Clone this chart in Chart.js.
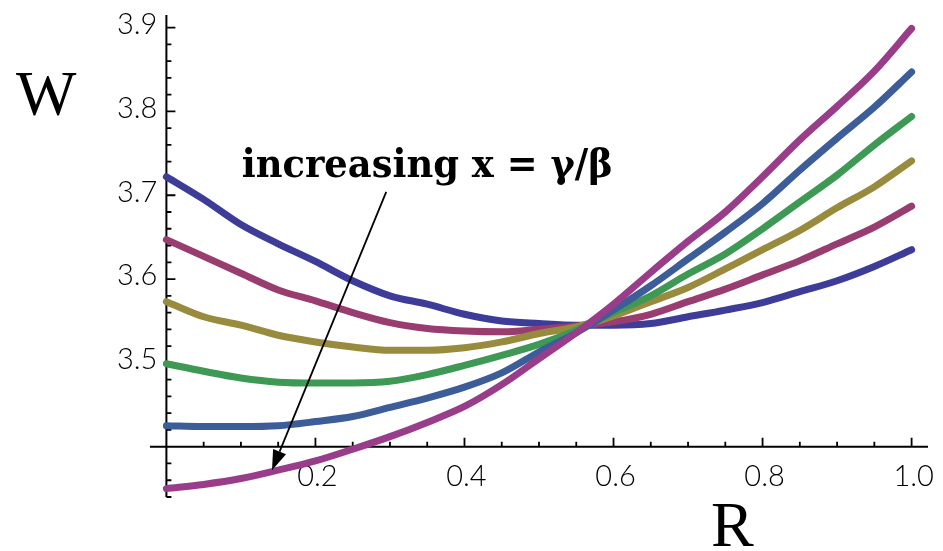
<!DOCTYPE html>
<html><head><meta charset="utf-8">
<script src="https://cdn.jsdelivr.net/npm/chart.js@4.4.1/dist/chart.umd.min.js"></script>
<style>html,body{margin:0;padding:0;background:#fff;overflow:hidden}canvas{display:block}</style>
</head><body>
<canvas id="c" width="943" height="551"></canvas>
<script>
// ---- data ----
const xValues = [0,0.05,0.10,0.15,0.20,0.25,0.30,0.35,0.40,0.45,0.50,0.55,0.60,0.65,0.70,0.75,0.80,0.85,0.90,0.95,1.00];
const seriesIndigo = [3.722,3.695,3.665,3.642,3.621,3.598,3.580,3.570,3.558,3.550,3.547,3.545,3.545,3.547,3.555,3.563,3.572,3.585,3.598,3.615,3.635];
const seriesMaroon = [3.647,3.627,3.607,3.587,3.574,3.560,3.548,3.541,3.538,3.537,3.540,3.544,3.549,3.558,3.573,3.588,3.605,3.622,3.642,3.662,3.687];
const seriesOlive  = [3.573,3.555,3.545,3.533,3.525,3.519,3.515,3.515,3.518,3.525,3.535,3.543,3.556,3.573,3.590,3.612,3.635,3.658,3.685,3.710,3.741];
const seriesGreen  = [3.499,3.490,3.482,3.477,3.476,3.476,3.478,3.486,3.497,3.509,3.522,3.539,3.560,3.580,3.606,3.630,3.660,3.692,3.724,3.760,3.794];
const seriesBlue   = [3.425,3.424,3.424,3.425,3.430,3.436,3.447,3.458,3.471,3.488,3.513,3.536,3.563,3.592,3.624,3.656,3.690,3.730,3.768,3.805,3.847];
const seriesPurple = [3.350,3.355,3.362,3.372,3.383,3.397,3.412,3.429,3.448,3.474,3.505,3.536,3.570,3.608,3.645,3.680,3.722,3.766,3.806,3.848,3.899];
const seriesColors = ['#3d3d99','#993d71','#998b3d','#3d9954','#3d5d99','#993d8b'];

const xMajorTicks = [0.2,0.4,0.6,0.8,1.0];
const xTickLabels = ['0.2','0.4','0.6','0.8','1.0'];
const xMinorTicks = [0.05,0.1,0.15,0.25,0.3,0.35,0.45,0.5,0.55,0.65,0.7,0.75,0.85,0.9,0.95];
const yMajorTicks = [3.5,3.6,3.7,3.8,3.9];
const yTickLabels = ['3.5','3.6','3.7','3.8','3.9'];
const yMinorTicks = [3.34,3.36,3.38,3.42,3.44,3.46,3.48,3.52,3.54,3.56,3.58,3.62,3.64,3.66,3.68,3.72,3.74,3.76,3.78,3.82,3.84,3.86,3.88];
const axisCross = {x: 0, y: 3.4};
const xLabel = 'R', yLabel = 'W';
const noteText = 'increasing x = \u03b3/\u03b2';
const noteAnchor = {x: 0.101, y: 3.722};
const arrowFrom = {x: 0.295, y: 3.704};
const arrowTo = {x: 0.1417, y: 3.372};

const allSeries = [seriesIndigo, seriesMaroon, seriesOlive, seriesGreen, seriesBlue, seriesPurple];

const axesPlugin = {
  id: 'mmaAxes',
  beforeDatasetsDraw(chart) {
    const ctx = chart.ctx, xs = chart.scales.x, ys = chart.scales.y, a = chart.chartArea;
    const px0 = xs.getPixelForValue(axisCross.x), py0 = ys.getPixelForValue(axisCross.y);
    ctx.save();
    ctx.strokeStyle = '#000'; ctx.lineWidth = 2; ctx.lineCap = 'butt';
    ctx.beginPath();
    ctx.moveTo(a.left, py0); ctx.lineTo(a.right, py0);
    ctx.moveTo(px0, a.top); ctx.lineTo(px0, a.bottom);
    ctx.stroke();
    ctx.lineWidth = 1.8;
    ctx.beginPath();
    xMajorTicks.forEach(v => { const p = xs.getPixelForValue(v); ctx.moveTo(p, py0); ctx.lineTo(p, py0 - 9); });
    xMinorTicks.forEach(v => { const p = xs.getPixelForValue(v); ctx.moveTo(p, py0); ctx.lineTo(p, py0 - 5); });
    yMajorTicks.forEach(v => { const p = ys.getPixelForValue(v); ctx.moveTo(px0, p); ctx.lineTo(px0 + 9, p); });
    yMinorTicks.forEach(v => { const p = ys.getPixelForValue(v); ctx.moveTo(px0, p); ctx.lineTo(px0 + 5, p); });
    ctx.stroke();
    ctx.fillStyle = '#000';
    ctx.font = '300 29px Lato, "Open Sans", sans-serif';
    ctx.textAlign = 'center'; ctx.textBaseline = 'top';
    xMajorTicks.forEach((v, i) => ctx.fillText(xTickLabels[i], xs.getPixelForValue(v) + 2, py0 + 15));
    ctx.textAlign = 'right'; ctx.textBaseline = 'middle';
    yMajorTicks.forEach((v, i) => ctx.fillText(yTickLabels[i], px0 - 9, ys.getPixelForValue(v) - 3));
    ctx.font = '64px "Liberation Serif", "DejaVu Serif", serif';
    ctx.textAlign = 'left'; ctx.textBaseline = 'alphabetic';
    ctx.fillText(yLabel, 16, 115);
    ctx.fillText(xLabel, 711, 546);
    ctx.restore();
  },
  afterDatasetsDraw(chart) {
    const ctx = chart.ctx, xs = chart.scales.x, ys = chart.scales.y;
    ctx.save();
    ctx.fillStyle = '#000';
    ctx.font = 'bold 40px "DejaVu Serif", serif';
    ctx.textBaseline = 'alphabetic'; ctx.textAlign = 'left';
    const w = ctx.measureText(noteText).width;
    ctx.translate(xs.getPixelForValue(noteAnchor.x), ys.getPixelForValue(noteAnchor.y));
    ctx.scale(371 / w, 1);
    ctx.fillText(noteText, 0, 0);
    ctx.restore();
    const x1 = xs.getPixelForValue(arrowFrom.x), y1 = ys.getPixelForValue(arrowFrom.y);
    const x2 = xs.getPixelForValue(arrowTo.x), y2 = ys.getPixelForValue(arrowTo.y);
    const ang = Math.atan2(y2 - y1, x2 - x1), L = 20, H = 7;
    const bx = x2 - L * Math.cos(ang), by = y2 - L * Math.sin(ang);
    ctx.save();
    ctx.strokeStyle = '#000'; ctx.lineWidth = 1.8;
    ctx.beginPath(); ctx.moveTo(x1, y1); ctx.lineTo(bx, by); ctx.stroke();
    ctx.fillStyle = '#000';
    ctx.beginPath();
    ctx.moveTo(x2, y2);
    ctx.lineTo(bx + H * Math.sin(ang), by - H * Math.cos(ang));
    ctx.lineTo(bx - H * Math.sin(ang), by + H * Math.cos(ang));
    ctx.closePath(); ctx.fill();
    ctx.restore();
  }
};

new Chart(document.getElementById('c'), {
  type: 'line',
  data: {
    datasets: allSeries.map((s, i) => ({
      data: xValues.map((x, k) => ({x: x, y: s[k]})),
      borderColor: seriesColors[i],
      borderWidth: 7,
      borderCapStyle: 'round',
      borderJoinStyle: 'round',
      pointRadius: 0,
      cubicInterpolationMode: 'monotone',
      fill: false,
      clip: false,
      order: allSeries.length - i
    }))
  },
  options: {
    responsive: false,
    animation: false,
    events: [],
    layout: {padding: {left: 150, right: 15, top: 15, bottom: 54}},
    plugins: {legend: {display: false}, tooltip: {enabled: false}},
    scales: {
      x: {type: 'linear', min: -0.022, max: 1.022, display: false},
      y: {type: 'linear', min: 3.34, max: 3.915, display: false}
    }
  },
  plugins: [axesPlugin]
});
</script>
</body></html>
